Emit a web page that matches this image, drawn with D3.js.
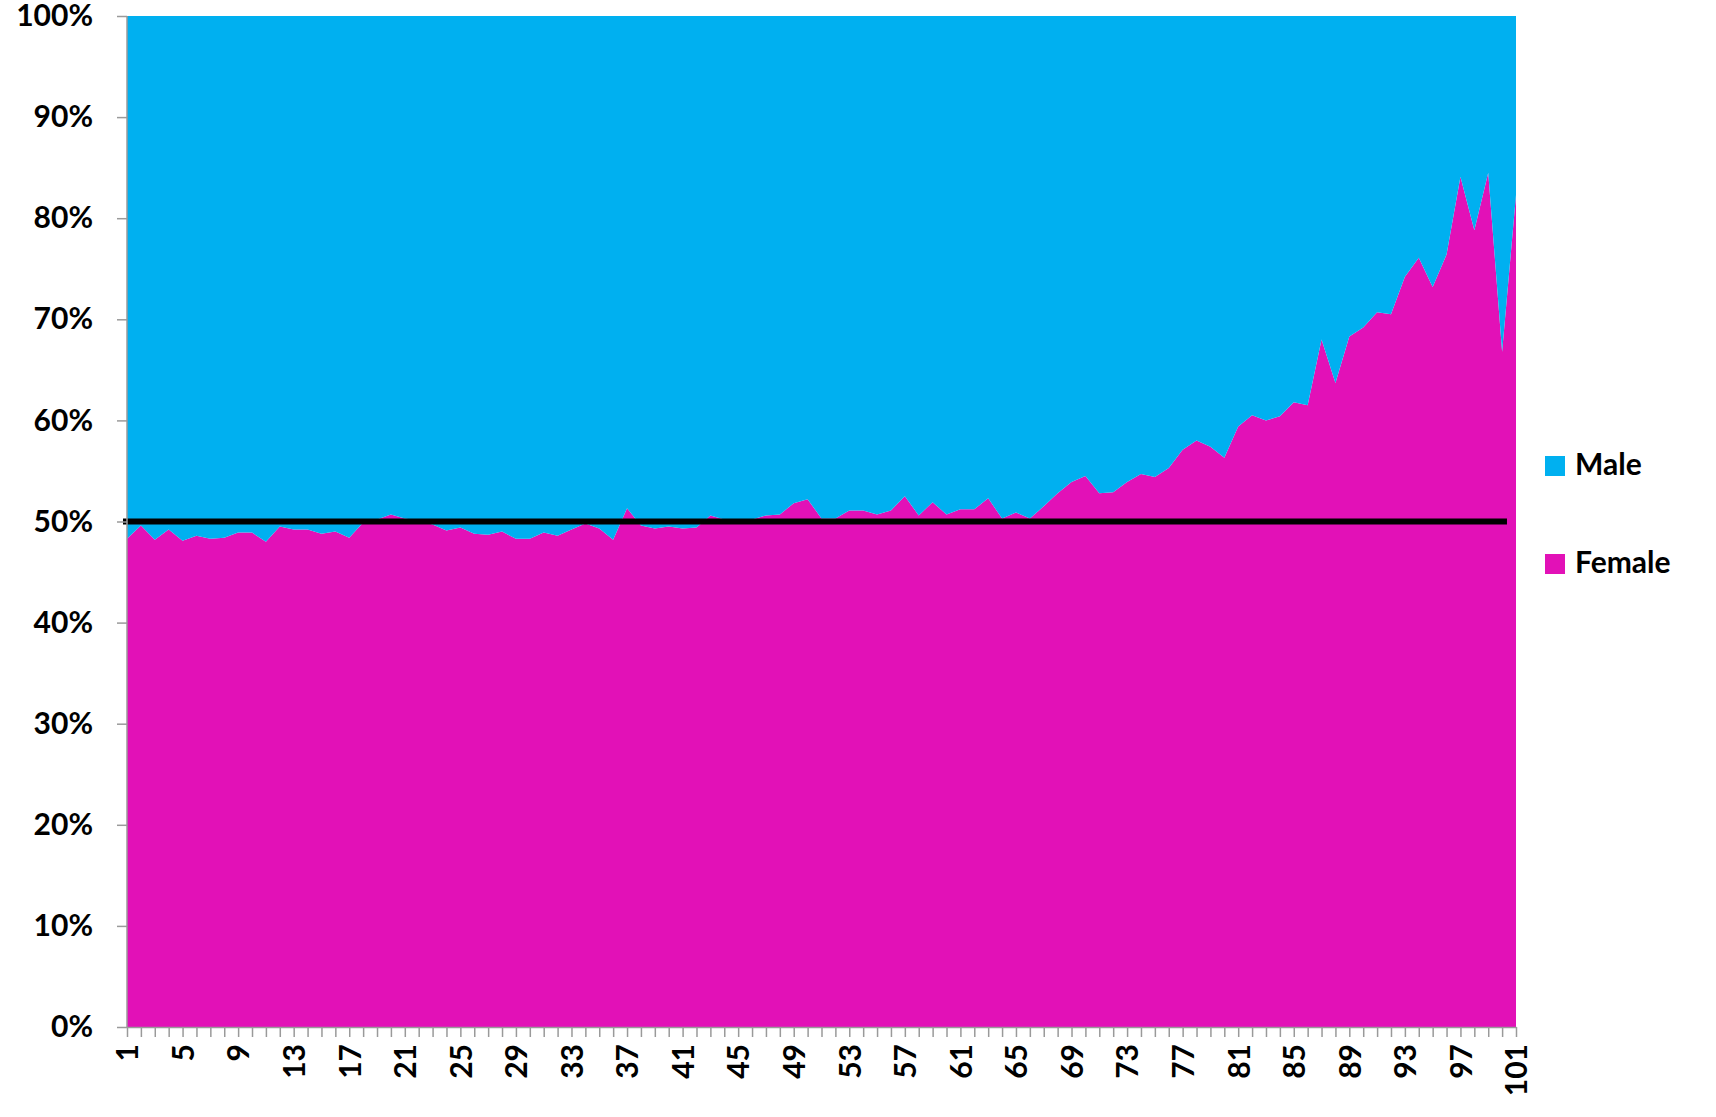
<!DOCTYPE html>
<html>
<head>
<meta charset="utf-8">
<script src="https://cdn.jsdelivr.net/npm/d3@7"></script>
<style>
  body { margin: 0; background: #fff; }
  text { font-family: Lato, "Liberation Sans", sans-serif; font-weight: bold; }
</style>
</head>
<body>
<div id="chart"></div>
<script>
// Age categories 1..101
var ages = d3.range(1, 102);

// Share of females (%) per category
var femaleShare = [
    48.3, 49.6, 48.2, 49.2, 48.1, 48.6, 48.3, 48.4, 48.9, 48.9,
    48.0, 49.5, 49.2, 49.2, 48.8, 49.0, 48.4, 49.9, 50.2, 50.7,
    50.3, 50.1, 49.7, 49.1, 49.4, 48.8, 48.7, 49.0, 48.3, 48.3,
    48.9, 48.6, 49.2, 49.8, 49.3, 48.2, 51.3, 49.6, 49.3, 49.5,
    49.3, 49.4, 50.6, 50.2, 50.1, 50.2, 50.6, 50.7, 51.8, 52.2,
    50.3, 50.3, 51.1, 51.1, 50.7, 51.1, 52.5, 50.6, 51.9, 50.7,
    51.2, 51.2, 52.3, 50.3, 50.9, 50.3, 51.5, 52.8, 53.9, 54.5,
    52.8, 52.9, 53.9, 54.7, 54.4, 55.3, 57.1, 58.0, 57.4, 56.3,
    59.4, 60.5, 60.0, 60.4, 61.8, 61.5, 68.0, 63.7, 68.3, 69.2,
    70.7, 70.5, 74.2, 76.1, 73.2, 76.4, 84.1, 78.8, 84.5, 66.8,
    82.3
];

// Share of males (%) per category
var maleShare = [
    51.7, 50.4, 51.8, 50.8, 51.9, 51.4, 51.7, 51.6, 51.1, 51.1,
    52.0, 50.5, 50.8, 50.8, 51.2, 51.0, 51.6, 50.1, 49.8, 49.3,
    49.7, 49.9, 50.3, 50.9, 50.6, 51.2, 51.3, 51.0, 51.7, 51.7,
    51.1, 51.4, 50.8, 50.2, 50.7, 51.8, 48.7, 50.4, 50.7, 50.5,
    50.7, 50.6, 49.4, 49.8, 49.9, 49.8, 49.4, 49.3, 48.2, 47.8,
    49.7, 49.7, 48.9, 48.9, 49.3, 48.9, 47.5, 49.4, 48.1, 49.3,
    48.8, 48.8, 47.7, 49.7, 49.1, 49.7, 48.5, 47.2, 46.1, 45.5,
    47.2, 47.1, 46.1, 45.3, 45.6, 44.7, 42.9, 42.0, 42.6, 43.7,
    40.6, 39.5, 40.0, 39.6, 38.2, 38.5, 32.0, 36.3, 31.7, 30.8,
    29.3, 29.5, 25.8, 23.9, 26.8, 23.6, 15.9, 21.2, 15.5, 33.2,
    17.7
];

// Y tick values (%)
var yTicks = [0, 10, 20, 30, 40, 50, 60, 70, 80, 90, 100];
// Reference line level (%)
var refLevel = 50;

var seriesNames = ["Female", "Male"];
var colors = { Female: "#E211B7", Male: "#00B0F0" };

var width = 1716, height = 1117;
var margin = { top: 16, right: 200, bottom: 90, left: 127 };
var innerW = 1389, innerH = 1011;

var svg = d3.select("#chart").append("svg")
    .attr("width", width)
    .attr("height", height);

var g = svg.append("g")
    .attr("transform", `translate(${margin.left},${margin.top})`);

// Build rows for the stack
var rows = ages.map(function(a, i) {
    return { age: a, Female: femaleShare[i], Male: maleShare[i] };
});

var stacked = d3.stack().keys(seriesNames)(rows);

// Scales
var x = d3.scaleLinear().domain([1, 101]).range([0, innerW]);
var y = d3.scaleLinear().domain([0, 100]).range([innerH, 0]);

var area = d3.area()
    .x(d => x(d.data.age))
    .y0(d => y(d[0]))
    .y1(d => y(d[1]));

// Draw areas
g.selectAll(".layer")
    .data(stacked)
    .enter().append("path")
    .attr("class", "layer")
    .attr("d", area)
    .attr("fill", d => colors[d.key]);

// 50% reference line
g.append("line")
    .attr("x1", x(1) - 4)
    .attr("x2", x(100.35))
    .attr("y1", y(refLevel))
    .attr("y2", y(refLevel))
    .attr("stroke", "#000")
    .attr("stroke-width", 6);

// Y axis
var yAxis = g.append("g")
    .call(d3.axisLeft(y)
        .tickValues(yTicks)
        .tickFormat(d => d + "%")
        .tickSize(10)
        .tickPadding(24));

// X axis
var xAxis = g.append("g")
    .attr("transform", `translate(0,${innerH})`)
    .call(d3.axisBottom(x)
        .tickValues(ages)
        .tickFormat(d => (d - 1) % 4 === 0 ? d : "")
        .tickSize(10)
        .tickSizeOuter(0));

xAxis.selectAll("text")
    .attr("transform", "rotate(-90)")
    .attr("text-anchor", "end")
    .attr("x", -17)
    .attr("y", 0)
    .attr("dy", "0.36em");

// Axis styling
[yAxis, xAxis].forEach(function(ax) {
    ax.select(".domain").attr("stroke", "#9a9a9a").attr("stroke-width", 1.5);
    ax.selectAll(".tick line").attr("stroke", "#9a9a9a").attr("stroke-width", 1.5);
    ax.selectAll("text")
        .attr("fill", "#000")
        .style("font-size", "30px")
        .style("font-weight", "bold")
        .style("font-family", "Lato, 'Liberation Sans', sans-serif");
});
yAxis.select(".domain").attr("d", `M0,${innerH}V0`);

// Legend
var legendItems = ["Male", "Female"];
var legend = svg.append("g")
    .attr("transform", "translate(1545,456)");

legend.selectAll("rect")
    .data(legendItems)
    .enter().append("rect")
    .attr("x", 0)
    .attr("y", (d, i) => i * 98)
    .attr("width", 20)
    .attr("height", 20)
    .attr("fill", d => colors[d]);

legend.selectAll("text")
    .data(legendItems)
    .enter().append("text")
    .attr("x", 30)
    .attr("y", (d, i) => i * 98 + 19)
    .style("font-size", "30px")
    .text(d => d);
</script>
</body>
</html>
